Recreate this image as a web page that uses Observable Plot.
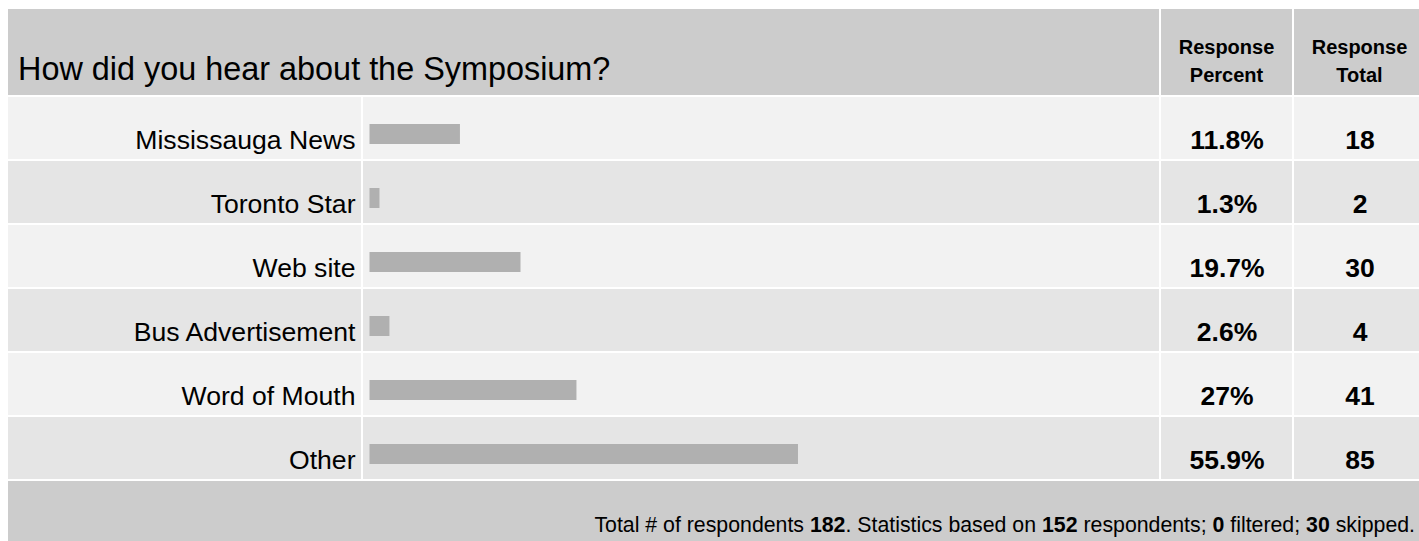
<!DOCTYPE html>
<html><head><meta charset="utf-8">
<script src="https://cdn.jsdelivr.net/npm/d3@7"></script>
<script src="https://cdn.jsdelivr.net/npm/@observablehq/plot@0.6"></script>
<style>
html,body{margin:0;padding:0;background:#fff;overflow:hidden;width:1419px;height:541px;}
body{font-family:"Liberation Sans",Arial,sans-serif;color:#000;}
#table{position:absolute;left:8px;top:9px;width:1417px;}
.hdr{display:flex;gap:2px;height:86px;}
.hdr > div{background:#ccc;height:86px;box-sizing:border-box;flex:none;}
.title{width:1151px;font-size:32.4px;line-height:32px;padding:44px 0 0 10px;white-space:nowrap;}
.colh{width:131px;font-weight:bold;font-size:20px;line-height:28px;text-align:center;padding-top:24px;}
.rows{display:flex;gap:2px;margin-top:2px;height:382px;}
.rows > *{flex:none;display:block;}
.foot{margin-top:2px;background:#ccc;height:80px;box-sizing:border-box;padding:34px 10px 0 0;text-align:right;font-size:21.3px;line-height:21px;white-space:nowrap;}
</style></head><body>
<div id="table">
  <div class="hdr" id="hdr"></div>
  <div class="rows" id="rows"></div>
  <div class="foot" id="foot"></div>
</div>
<script>
// ---- data ----
const question = "How did you hear about the Symposium?";
const columnHeaders = [["Response", "Percent"], ["Response", "Total"]];
const categories = ["Mississauga News", "Toronto Star", "Web site", "Bus Advertisement", "Word of Mouth", "Other"];
const percents = [11.8, 1.3, 19.7, 2.6, 27, 55.9];
const totals = [18, 2, 30, 4, 41, 85];
const totalRespondents = 182;
const basedOn = 152;
const filtered = 0;
const skipped = 30;

const rows = categories.map((c, i) => ({category: c, percent: percents[i], total: totals[i], shade: i % 2}));

// ---- header ----
const hdr = document.getElementById("hdr");
const t = document.createElement("div");
t.className = "title";
t.textContent = question;
hdr.appendChild(t);
for (const lines of columnHeaders) {
  const d = document.createElement("div");
  d.className = "colh";
  d.innerHTML = lines.join("<br>");
  hdr.appendChild(d);
}

// ---- rows (Plot) ----
const H = 382;
const font = "'Liberation Sans', Arial, sans-serif";
const yScale = {domain: categories, range: [0, H], paddingInner: 2 / 64, paddingOuter: 0, round: false, axis: null};
const bg = Plot.cell(rows, {y: "category", fill: d => d.shade ? "#e5e5e5" : "#f2f2f2"});
const common = {height: H, margin: 0, y: yScale, color: {type: "identity"}, style: {fontFamily: font, background: "transparent", overflow: "visible"}};

const labelPlot = Plot.plot({
  ...common, width: 353,
  marks: [bg, Plot.text(rows, {y: "category", text: "category", frameAnchor: "right", textAnchor: "end", dx: -6, dy: 12, fontSize: 26.6, fill: "#000"})]
});
const barPlot = Plot.plot({
  ...common, width: 796,
  x: {domain: [0, 100], range: [6.5, 773], axis: null},
  marks: [bg, Plot.barX(rows, {x: "percent", y: "category", fill: "#b0b0b0", insetTop: 27, insetBottom: 15})]
});
const pctPlot = Plot.plot({
  ...common, width: 131,
  marks: [bg, Plot.text(rows, {y: "category", text: d => d.percent + "%", dy: 12, fontSize: 26.5, fontWeight: "bold", fill: "#000"})]
});
const totPlot = Plot.plot({
  ...common, width: 131,
  marks: [bg, Plot.text(rows, {y: "category", text: d => String(d.total), dy: 12, fontSize: 26.5, fontWeight: "bold", fill: "#000"})]
});
const rowsEl = document.getElementById("rows");
[labelPlot, barPlot, pctPlot, totPlot].forEach(p => rowsEl.appendChild(p));

// ---- footer ----
document.getElementById("foot").innerHTML =
  `Total # of respondents <b>${totalRespondents}</b>. Statistics based on <b>${basedOn}</b> respondents; <b>${filtered}</b> filtered; <b>${skipped}</b> skipped.`;
</script>
</body></html>
